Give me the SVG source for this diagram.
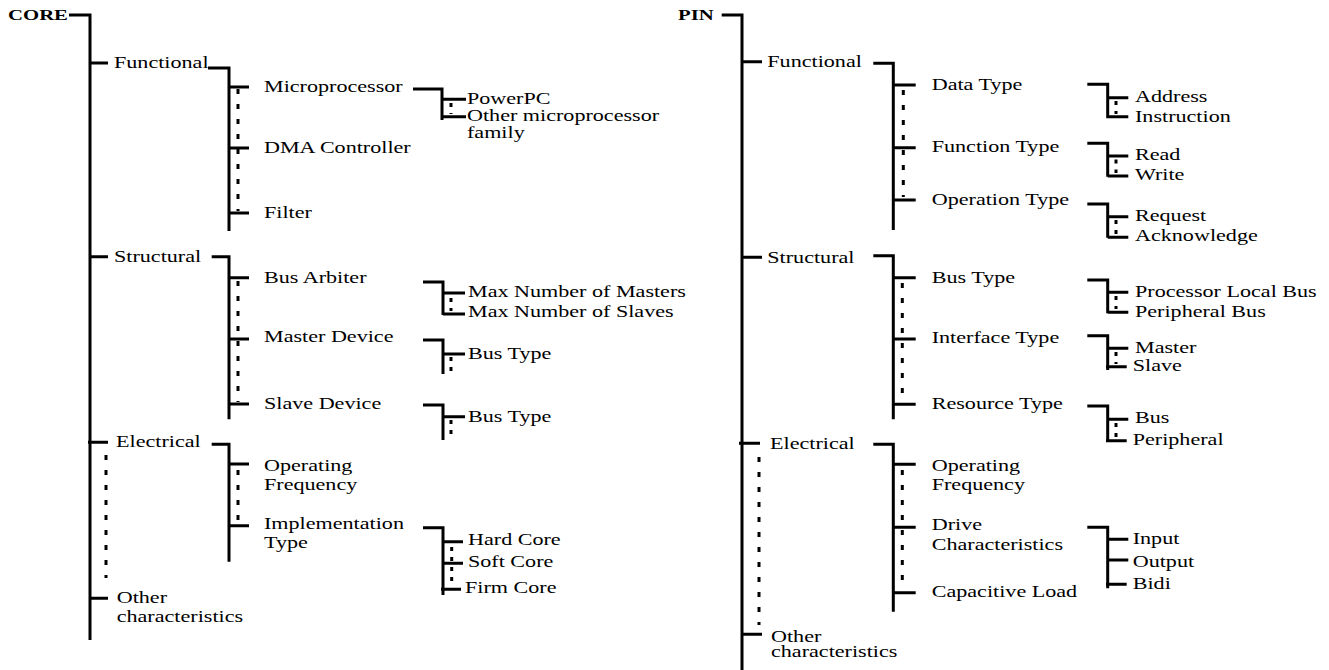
<svg xmlns="http://www.w3.org/2000/svg" width="1329" height="670" viewBox="0 0 1329 670">
<style>
.t{font-family:"Liberation Serif","Times New Roman",serif;font-size:16.5px;fill:#000}
.b{font-family:"Liberation Serif","Times New Roman",serif;font-size:15.5px;font-weight:bold;fill:#000}
.ln{fill:none;stroke:#000;stroke-width:3;stroke-linejoin:miter;stroke-linecap:butt}
.dt{fill:none;stroke:#000;stroke-width:3;stroke-dasharray:5 10}
.ds{fill:none;stroke:#000;stroke-width:3;stroke-dasharray:4 6}
</style>
<rect width="1329" height="670" fill="#fff"/>
<g id="connectors">
<!-- CORE tree -->
<path class="ln" d="M69,15 H90 V640"/>
<path class="ln" d="M90,63 H108 M90,256.7 H108 M88,442.3 H108 M90,598.3 H108"/>
<path class="ln" d="M208,68 H229 V231"/>
<path class="ln" d="M229,87 H249 M229,148 H249 M229,213 H249"/>
<path class="dt" d="M238,89 V211"/>
<path class="ln" d="M413,89 H442 V120 M442,99.3 H466 M442,116.7 H466"/>
<path class="ds" d="M451,103 V114"/>
<path class="ln" d="M211.7,256.7 H229 V419.3"/>
<path class="ln" d="M229,277.7 H249 M229,339 H249 M229,404 H249"/>
<path class="dt" d="M238,281 V402"/>
<path class="ln" d="M423,282 H443 V315 M443,293 H465 M443,314 H465"/>
<path class="ds" d="M451,298 V311"/>
<path class="ln" d="M423,340 H443 V374 M443,354 H465"/>
<path class="ds" d="M451,357 V374"/>
<path class="ln" d="M423,405 H443 V440 M443,416.7 H465"/>
<path class="ds" d="M451,420 V440"/>
<path class="ln" d="M211.7,444.3 H229 V561.7"/>
<path class="ln" d="M229,464 H249 M229,525.7 H249"/>
<path class="dt" d="M238,470 V522"/>
<path class="dt" d="M106,455 V578"/>
<path class="ln" d="M423,527.7 H443 V595 M443,541.7 H463 M443,563.3 H463 M441,589.3 H461"/>
<path class="ds" d="M451.7,547 V586"/>
<!-- PIN tree -->
<path class="ln" d="M721.7,15 H742 V670"/>
<path class="ln" d="M742,61.7 H762 M742,257.3 H762 M739,443.3 H760 M742,634.3 H762"/>
<path class="ln" d="M873.3,63.3 H893.3 V230"/>
<path class="ln" d="M893.3,85 H915.7 M893.3,147.7 H915.7 M893.3,200 H915.7"/>
<path class="dt" d="M903.3,90 V197"/>
<path class="ln" d="M1087.3,84.3 H1107.7 V118.3 M1107.7,97.7 H1128.3 M1107.7,116.7 H1128.3"/>
<path class="ds" d="M1116,101 V114"/>
<path class="ln" d="M1087.3,143.3 H1107.7 V176.7 M1107.7,156 H1128.3 M1107.7,176 H1128.3"/>
<path class="ds" d="M1116,159.5 V173"/>
<path class="ln" d="M1087.3,204 H1107.7 V237.7 M1107.7,216.7 H1128.3 M1107.7,237.3 H1128.3"/>
<path class="ds" d="M1116,220 V234"/>
<path class="ln" d="M873.3,255.7 H893.3 V419.3"/>
<path class="ln" d="M893.3,277.7 H915.7 M893.3,339 H915.7 M893.3,404.3 H915.7"/>
<path class="dt" d="M902.3,283 V402"/>
<path class="ln" d="M1087.3,280 H1107.7 V313.3 M1107.7,292.3 H1128.3 M1107.7,312.3 H1128.3"/>
<path class="ds" d="M1116,296 V309"/>
<path class="ln" d="M1087.3,335.7 H1107.7 V370 M1107.7,348.3 H1128.3 M1106,366.7 H1126.7"/>
<path class="ds" d="M1116,352 V364"/>
<path class="ln" d="M1087.3,406 H1107.7 V441.7 M1107.7,419.3 H1128.3 M1106,440.7 H1126.7"/>
<path class="ds" d="M1116,423 V437"/>
<path class="ln" d="M873.3,444.3 H893.3 V611.7"/>
<path class="ln" d="M893.3,464.3 H915.7 M893.3,527.3 H915.7 M893.3,592.7 H915.7"/>
<path class="dt" d="M902.3,470 V589"/>
<path class="dt" d="M759,457 V625"/>
<path class="ln" d="M1087.3,527.3 H1107.7 V588.3 M1107.7,539.3 H1128.3 M1107.7,560 H1128.3 M1106,584.3 H1126.7"/>
</g>
<!-- CORE nodes -->
<g id="core"><text class="b" transform="translate(8,20) scale(1.34,1)">CORE</text></g>
<g id="core-functional"><text class="t" transform="translate(114,68) scale(1.34,1)">Functional</text></g>
<g id="core-microprocessor"><text class="t" transform="translate(264,92) scale(1.34,1)">Microprocessor</text></g>
<g id="core-powerpc"><text class="t" transform="translate(467,104) scale(1.34,1)">PowerPC</text></g>
<g id="core-other-micro"><text class="t" transform="translate(467,121) scale(1.34,1)"><tspan x="0">Other microprocessor</tspan><tspan x="0" dy="17">family</tspan></text></g>
<g id="core-dma"><text class="t" transform="translate(264,153) scale(1.34,1)">DMA Controller</text></g>
<g id="core-filter"><text class="t" transform="translate(264,218) scale(1.34,1)">Filter</text></g>
<g id="core-structural"><text class="t" transform="translate(114,262) scale(1.34,1)">Structural</text></g>
<g id="core-bus-arbiter"><text class="t" transform="translate(264,283.3) scale(1.34,1)">Bus Arbiter</text></g>
<g id="core-max-masters"><text class="t" transform="translate(468,296.7) scale(1.34,1)">Max Number of Masters</text></g>
<g id="core-max-slaves"><text class="t" transform="translate(468,317) scale(1.34,1)">Max Number of Slaves</text></g>
<g id="core-master-device"><text class="t" transform="translate(264,342) scale(1.34,1)">Master Device</text></g>
<g id="core-master-bustype"><text class="t" transform="translate(468,359) scale(1.34,1)">Bus Type</text></g>
<g id="core-slave-device"><text class="t" transform="translate(264,409) scale(1.34,1)">Slave Device</text></g>
<g id="core-slave-bustype"><text class="t" transform="translate(468,421.7) scale(1.34,1)">Bus Type</text></g>
<g id="core-electrical"><text class="t" transform="translate(116,446.7) scale(1.34,1)">Electrical</text></g>
<g id="core-opfreq"><text class="t" transform="translate(264,470.7) scale(1.34,1)"><tspan x="0">Operating</tspan><tspan x="0" dy="19.3">Frequency</tspan></text></g>
<g id="core-impltype"><text class="t" transform="translate(264,528.7) scale(1.34,1)"><tspan x="0">Implementation</tspan><tspan x="0" dy="19.3">Type</tspan></text></g>
<g id="core-hard"><text class="t" transform="translate(468,545) scale(1.34,1)">Hard Core</text></g>
<g id="core-soft"><text class="t" transform="translate(468,566.7) scale(1.34,1)">Soft Core</text></g>
<g id="core-firm"><text class="t" transform="translate(465,593.3) scale(1.34,1)">Firm Core</text></g>
<g id="core-other"><text class="t" transform="translate(116.7,603.3) scale(1.34,1)"><tspan x="0">Other</tspan><tspan x="0" dy="18.4">characteristics</tspan></text></g>
<!-- PIN nodes -->
<g id="pin"><text class="b" transform="translate(678,20) scale(1.34,1)">PIN</text></g>
<g id="pin-functional"><text class="t" transform="translate(767.3,66.7) scale(1.34,1)">Functional</text></g>
<g id="pin-datatype"><text class="t" transform="translate(931.7,90) scale(1.34,1)">Data Type</text></g>
<g id="pin-address"><text class="t" transform="translate(1135,102.3) scale(1.34,1)">Address</text></g>
<g id="pin-instruction"><text class="t" transform="translate(1135,121.7) scale(1.34,1)">Instruction</text></g>
<g id="pin-functiontype"><text class="t" transform="translate(931.7,152) scale(1.34,1)">Function Type</text></g>
<g id="pin-read"><text class="t" transform="translate(1135,160) scale(1.34,1)">Read</text></g>
<g id="pin-write"><text class="t" transform="translate(1135,180) scale(1.34,1)">Write</text></g>
<g id="pin-operationtype"><text class="t" transform="translate(931.7,205) scale(1.34,1)">Operation Type</text></g>
<g id="pin-request"><text class="t" transform="translate(1135,221) scale(1.34,1)">Request</text></g>
<g id="pin-ack"><text class="t" transform="translate(1135,240.7) scale(1.34,1)">Acknowledge</text></g>
<g id="pin-structural"><text class="t" transform="translate(767.3,263.3) scale(1.34,1)">Structural</text></g>
<g id="pin-bustype"><text class="t" transform="translate(931.7,282.7) scale(1.34,1)">Bus Type</text></g>
<g id="pin-plb"><text class="t" transform="translate(1135,296.7) scale(1.34,1)">Processor Local Bus</text></g>
<g id="pin-pb"><text class="t" transform="translate(1135,316.7) scale(1.34,1)">Peripheral Bus</text></g>
<g id="pin-interfacetype"><text class="t" transform="translate(931.7,343.3) scale(1.34,1)">Interface Type</text></g>
<g id="pin-master"><text class="t" transform="translate(1135,352.7) scale(1.34,1)">Master</text></g>
<g id="pin-slave"><text class="t" transform="translate(1132.7,370.7) scale(1.34,1)">Slave</text></g>
<g id="pin-resourcetype"><text class="t" transform="translate(931.7,409.3) scale(1.34,1)">Resource Type</text></g>
<g id="pin-bus"><text class="t" transform="translate(1135,423.3) scale(1.34,1)">Bus</text></g>
<g id="pin-peripheral"><text class="t" transform="translate(1132.7,445) scale(1.34,1)">Peripheral</text></g>
<g id="pin-electrical"><text class="t" transform="translate(770,449) scale(1.34,1)">Electrical</text></g>
<g id="pin-opfreq"><text class="t" transform="translate(931.7,470.7) scale(1.34,1)"><tspan x="0">Operating</tspan><tspan x="0" dy="19.3">Frequency</tspan></text></g>
<g id="pin-drive"><text class="t" transform="translate(931.7,530) scale(1.34,1)"><tspan x="0">Drive</tspan><tspan x="0" dy="20">Characteristics</tspan></text></g>
<g id="pin-input"><text class="t" transform="translate(1132.7,544) scale(1.34,1)">Input</text></g>
<g id="pin-output"><text class="t" transform="translate(1132.7,567.3) scale(1.34,1)">Output</text></g>
<g id="pin-bidi"><text class="t" transform="translate(1132.7,589) scale(1.34,1)">Bidi</text></g>
<g id="pin-capload"><text class="t" transform="translate(931.7,596.7) scale(1.34,1)">Capacitive Load</text></g>
<g id="pin-other"><text class="t" transform="translate(771,641.7) scale(1.34,1)"><tspan x="0">Other</tspan><tspan x="0" dy="15.6">characteristics</tspan></text></g>
</svg>
